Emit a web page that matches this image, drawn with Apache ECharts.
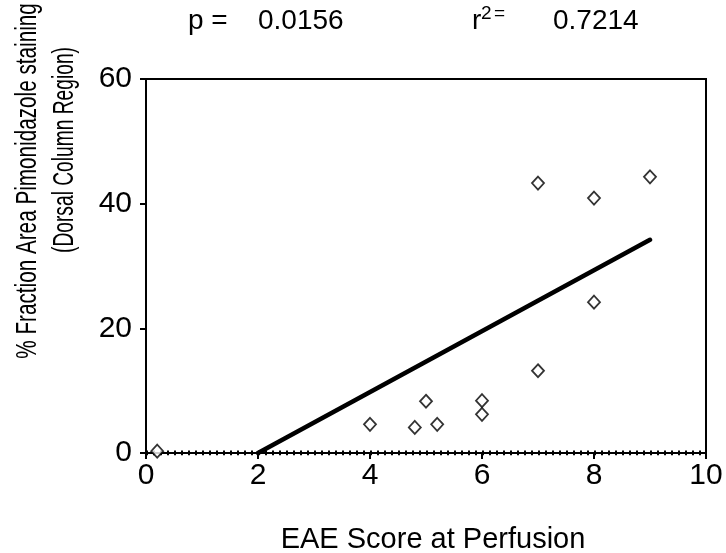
<!DOCTYPE html>
<html>
<head>
<meta charset="utf-8">
<script src="https://cdn.jsdelivr.net/npm/echarts@6/dist/echarts.min.js"></script>
<style>html,body{margin:0;padding:0;background:#fff}#c{width:726px;height:553px}</style>
</head>
<body>
<div id="c"></div>
<script>
const xTicks = [0, 2, 4, 6, 8, 10];
const yTicks = [0, 20, 40, 60];
const eaeScore = [0.2, 4.0, 4.8, 5.0, 5.2, 6.0, 6.0, 7.0, 7.0, 8.0, 8.0, 9.0];
const fractionArea = [0.3, 4.6, 4.1, 8.3, 4.6, 8.4, 6.2, 43.3, 13.2, 40.9, 24.2, 44.3];
const fitX = [2, 9];
const fitY = [0, 34.2];
const zeroLineX = [0, 10];
const zeroLineY = [0, 0];
const pValue = '0.0156';
const r2Value = '0.7214';

const FONT = '"Liberation Sans", Arial, sans-serif';
const chart = echarts.init(document.getElementById('c'), null, {renderer: 'canvas'});
chart.setOption({
  animation: false,
  backgroundColor: '#fff',
  grid: {left: 146, right: 20, top: 79, bottom: 100, containLabel: false, outerBoundsMode: 'none',
    show: true, borderColor: '#000', borderWidth: 2, backgroundColor: 'transparent'},
  xAxis: {
    type: 'value', min: xTicks[0], max: xTicks[xTicks.length - 1], interval: 2,
    axisLine: {lineStyle: {color: '#000', width: 2}},
    axisTick: {show: true, inside: false, length: 6, lineStyle: {color: '#000', width: 2}},
    axisLabel: {color: '#000', fontSize: 30, fontFamily: FONT, margin: 8},
    splitLine: {show: false},
    name: 'EAE Score at Perfusion', nameLocation: 'middle', nameGap: 72,
    nameTextStyle: {color: '#000', fontSize: 29, fontFamily: FONT, padding: [0, 0, 0, 14]}
  },
  yAxis: {
    type: 'value', min: yTicks[0], max: yTicks[yTicks.length - 1], interval: 20,
    axisLine: {lineStyle: {color: '#000', width: 2}},
    axisTick: {show: true, inside: false, length: 6, lineStyle: {color: '#000', width: 2}},
    axisLabel: {color: '#000', fontSize: 30, fontFamily: FONT, margin: 14},
    splitLine: {show: false}
  },
  series: [
    {
      type: 'line', data: zeroLineX.map((x, i) => [x, zeroLineY[i]]), symbol: 'none',
      lineStyle: {color: '#000', width: 5, type: [2, 5]}, z: 1, silent: true
    },
    {
      type: 'line', data: fitX.map((x, i) => [x, fitY[i]]), symbol: 'none',
      lineStyle: {color: '#000', width: 4.5, cap: 'round'}, z: 2
    },
    {
      type: 'scatter', data: eaeScore.map((x, i) => [x, fractionArea[i]]),
      symbol: 'diamond', symbolSize: [12, 13],
      itemStyle: {color: '#fff', borderColor: '#000', borderWidth: 1.8}, z: 3
    }
  ],
  graphic: [
    {type: 'text', x: 188, y: 21, style: {text: 'p =', font: '28px ' + FONT, fill: '#000', textVerticalAlign: 'middle'}},
    {type: 'text', x: 258, y: 21, style: {text: pValue, font: '28px ' + FONT, fill: '#000', textVerticalAlign: 'middle'}},
    {type: 'text', x: 472, y: 21, style: {text: 'r', font: '28px ' + FONT, fill: '#000', textVerticalAlign: 'middle'}},
    {type: 'text', x: 481, y: 14, style: {text: '2', font: '19px ' + FONT, fill: '#000', textVerticalAlign: 'middle'}},
    {type: 'text', x: 494, y: 14, style: {text: '=', font: '19px ' + FONT, fill: '#000', textVerticalAlign: 'middle'}},
    {type: 'text', x: 553, y: 21, style: {text: r2Value, font: '28px ' + FONT, fill: '#000', textVerticalAlign: 'middle'}},
    {type: 'text', x: 28, y: 181, rotation: Math.PI / 2, scaleX: 0.69,
      style: {text: '% Fraction Area Pimonidazole staining', font: '30px ' + FONT, fill: '#000', textAlign: 'center', textVerticalAlign: 'middle'}},
    {type: 'text', x: 65, y: 150, rotation: Math.PI / 2, scaleX: 0.64,
      style: {text: '(Dorsal Column Region)', font: '30px ' + FONT, fill: '#000', textAlign: 'center', textVerticalAlign: 'middle'}}
  ]
});
</script>
</body>
</html>
